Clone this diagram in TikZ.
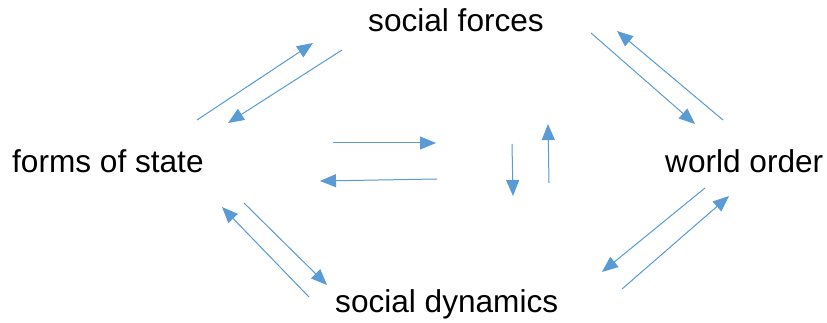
\documentclass[tikz,border=0pt]{standalone}
\usepackage{fontspec}
\setmainfont{Liberation Sans}
\usetikzlibrary{arrows.meta}
\definecolor{flowblue}{HTML}{5B9BD5}
\begin{document}
\begin{tikzpicture}[x=1pt,y=-1pt,
  label/.style={anchor=base west,inner sep=0pt,font=\fontsize{31.6}{38}\selectfont},
  flow/.style={draw=flowblue,line width=1pt,-{Triangle[length=16pt,width=13pt]},fill=flowblue}]
\useasboundingbox (0,0) rectangle (827,323);
% concept labels
\node[label] (forces) at (368,32) {social forces};
\node[label] (state) at (12,173) {forms of state};
\node[label] (order) at (665,173) {world order};
\node[label] (dyn) at (335,312) {social dynamics};
% arrow end points
\coordinate (a1s) at (197,120); \coordinate (a1e) at (313,43);
\coordinate (a2s) at (342,50);  \coordinate (a2e) at (228,123);
\coordinate (b1s) at (591,33);  \coordinate (b1e) at (695,124);
\coordinate (b2s) at (723,120); \coordinate (b2e) at (617,31);
\coordinate (c1s) at (309,297); \coordinate (c1e) at (222,207);
\coordinate (c2s) at (244,203); \coordinate (c2e) at (327,285);
\coordinate (d1s) at (705,188); \coordinate (d1e) at (602,272);
\coordinate (d2s) at (622,289); \coordinate (d2e) at (729,196);
\coordinate (e1s) at (333,143); \coordinate (e1e) at (436,143);
\coordinate (e2s) at (437,179); \coordinate (e2e) at (320,181);
\coordinate (f1s) at (512,144); \coordinate (f1e) at (513,196);
\coordinate (f2s) at (549,183); \coordinate (f2e) at (548,124);
% paired arrows
\foreach \p in {a1,a2,b1,b2,c1,c2,d1,d2,e1,e2,f1,f2}
  \draw[flow] (\p s) -- (\p e);
\end{tikzpicture}
\end{document}
